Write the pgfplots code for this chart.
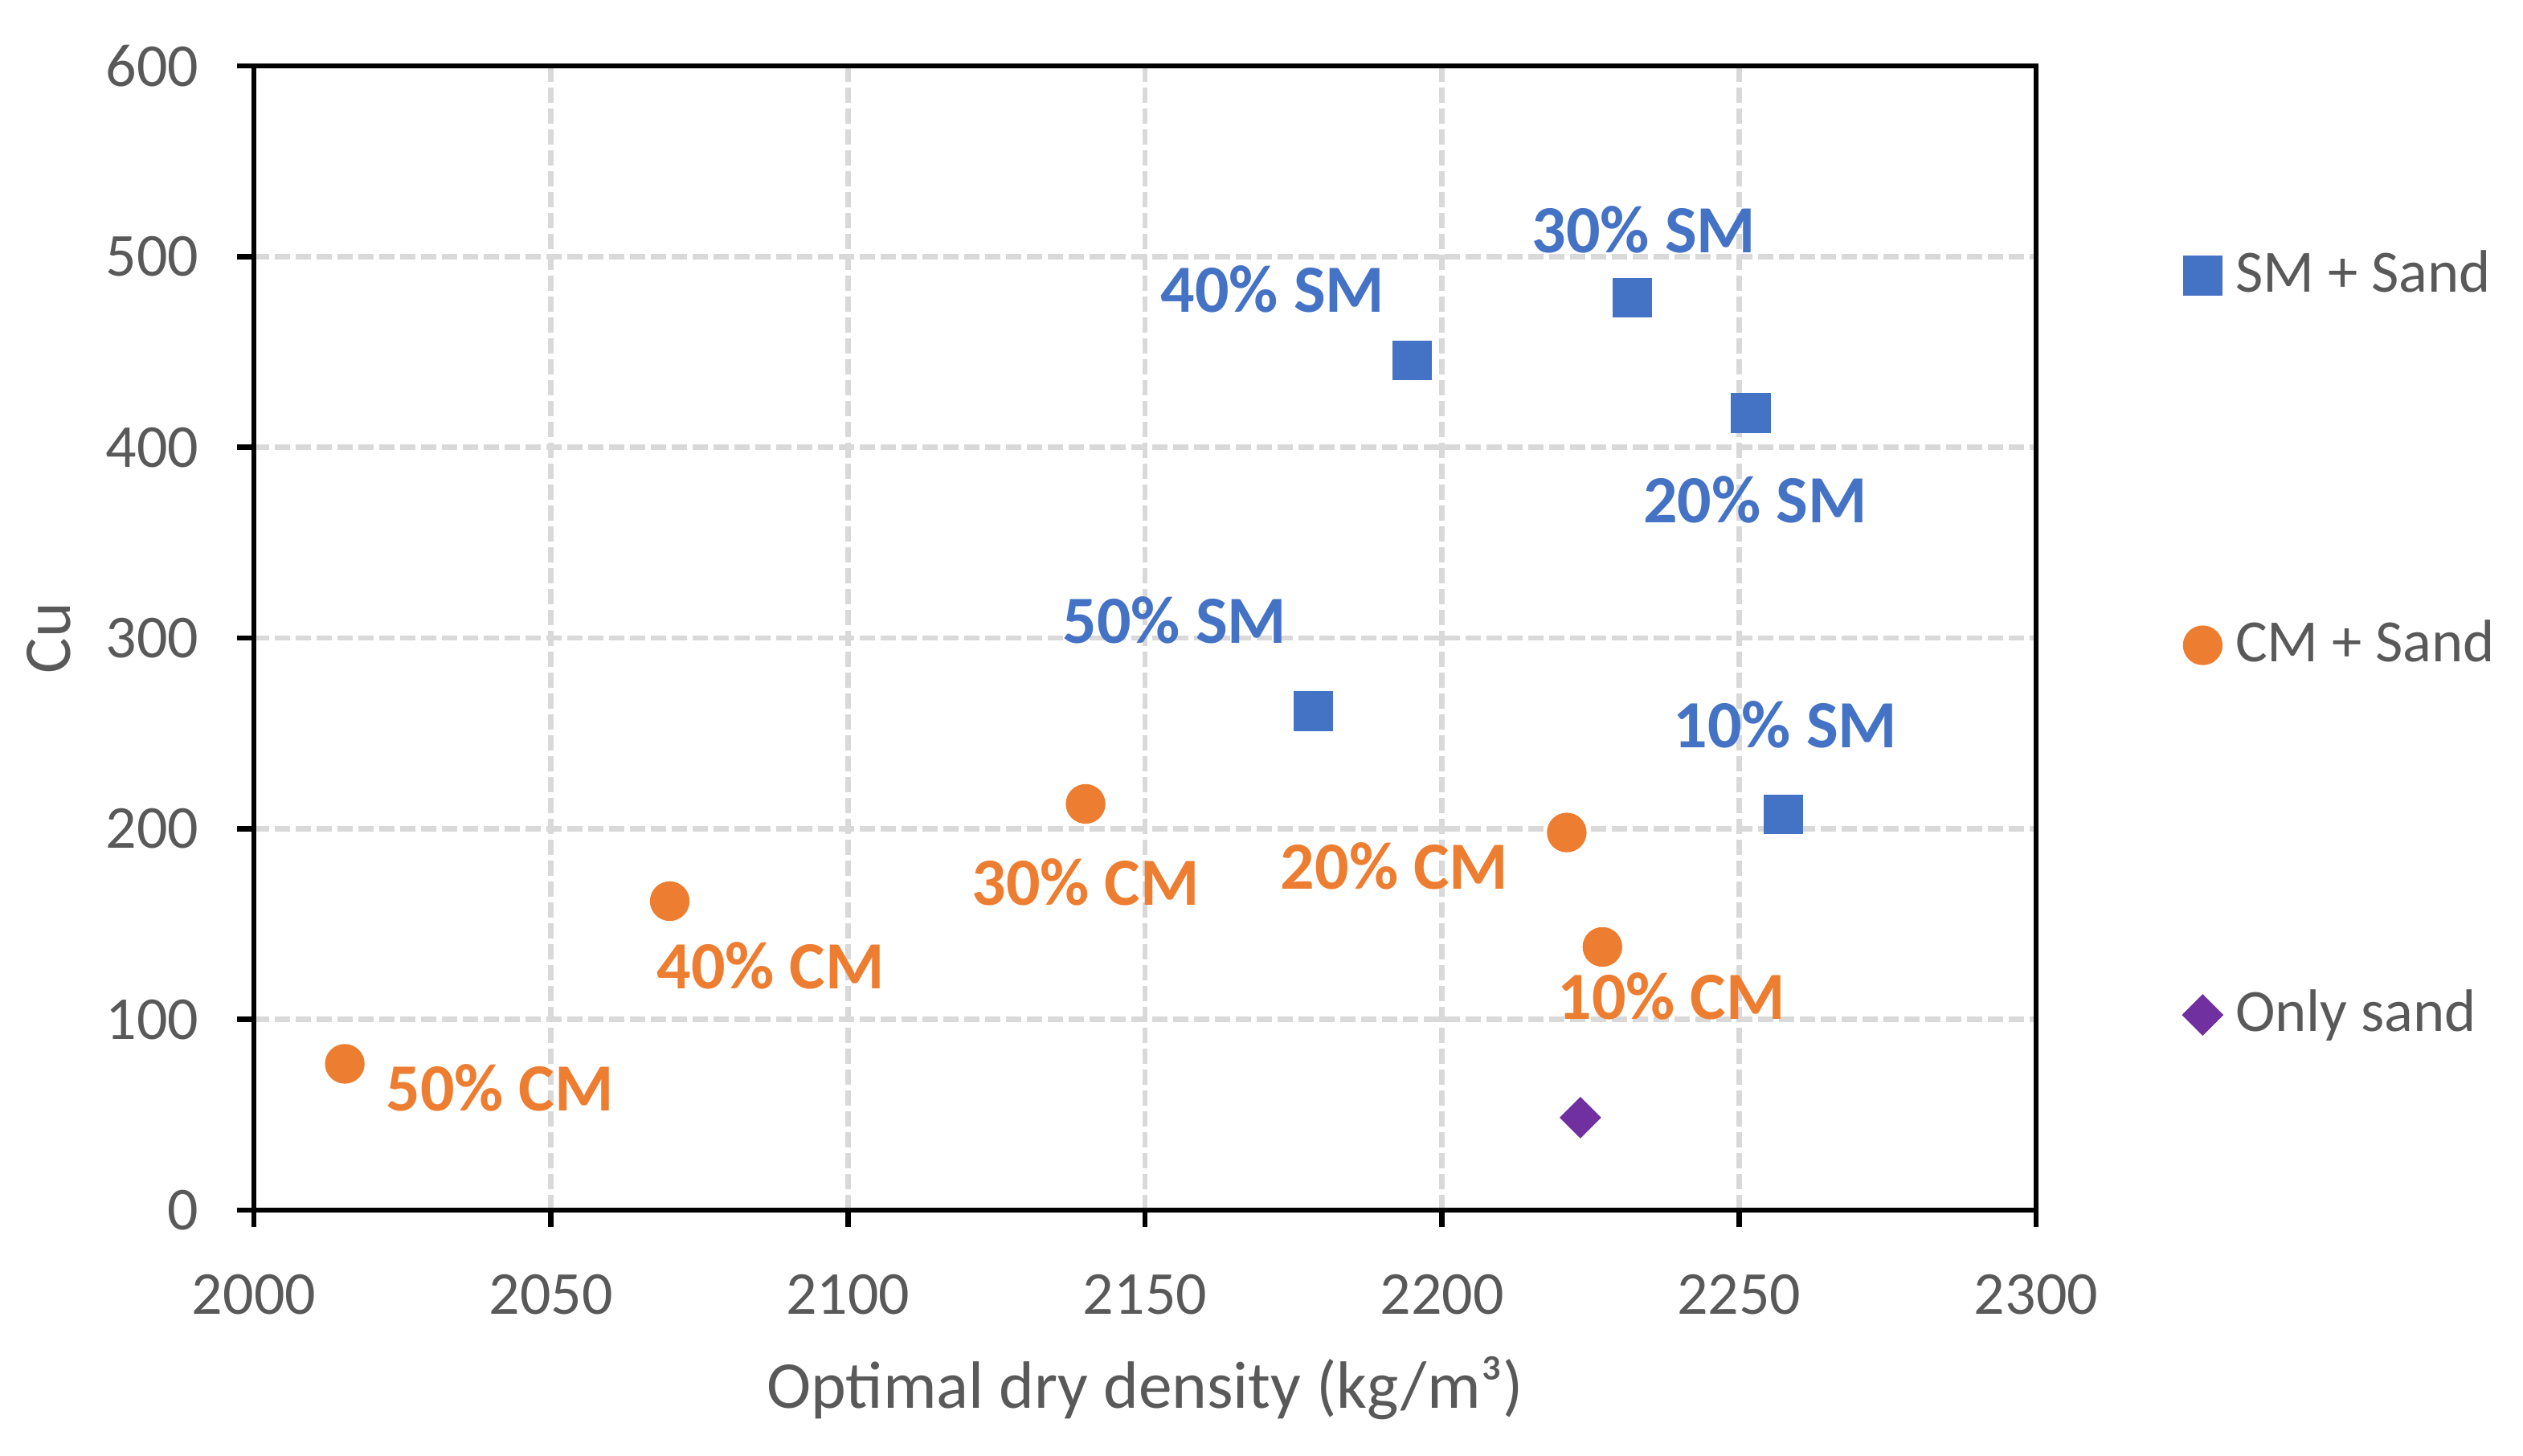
\documentclass[border=0pt]{standalone}
\usepackage{fontspec}
\setmainfont{Carlito}
\usepackage{pgfplots}
\pgfplotsset{compat=1.18}
\definecolor{smblue}{HTML}{4472C4}
\definecolor{cmorange}{HTML}{ED7D31}
\definecolor{sandpurple}{HTML}{7030A0}
\definecolor{txtgray}{HTML}{595959}
\definecolor{gridgray}{HTML}{D9D9D9}
\begin{document}
\begin{tikzpicture}
\useasboundingbox (-47.4pt,-45.9pt) rectangle (423.6pt,225.9pt);
\begin{axis}[
  scale only axis, width=332.7pt, height=213.6pt,
  xmin=2000, xmax=2300, ymin=0, ymax=600,
  xtick={2000,2050,...,2300}, ytick={0,100,...,600},
  axis line style={black, line width=1pt},
  tick align=outside, xtick pos=bottom, ytick pos=left,
  major tick length=3.15pt,
  tick style={black, line width=1pt},
  grid=major,
  major grid style={gridgray, line width=1.0pt, dash pattern=on 2.8pt off 1.1pt},
  ticklabel style={font=\fontsize{11.4}{13}\selectfont, text=txtgray},
  xticklabel style={yshift=-5.4pt},
  yticklabel style={xshift=-3.6pt},
  /pgf/number format/assume math mode=true,
  /pgf/number format/1000 sep={},
  xlabel={Optimal dry density (kg/m³)},
  ylabel={Cu},
  every axis x label/.style={at={(axis description cs:0.5,-0.1728)}, anchor=base, font=\fontsize{12.5}{15}\selectfont, text=txtgray},
  every axis y label/.style={at={(axis description cs:-0.1028,0.5)}, rotate=90, anchor=base, font=\fontsize{12.5}{15}\selectfont, text=txtgray},
  legend style={at={(axis description cs:1.0821,0.841)}, anchor=north west, draw=none, fill=none, inner sep=0pt, row sep=59pt, column sep=2.5pt, font=\fontsize{11.2}{13}\selectfont, text=txtgray, nodes={inner sep=0pt, text height=8pt, text depth=2pt, text=txtgray}},
  legend cell align=left,
  legend image code/.code={\draw[#1] plot coordinates {(0pt,0pt)};},
  clip=false,
]
\addplot[only marks, mark=square*, mark size=3.5pt, color=smblue, mark options={fill=smblue, draw=smblue}]
  coordinates {(2257.5,207.5)(2252,418)(2232,478.5)(2195,445.5)(2178.3,261.7)};
\addlegendentry{SM + Sand}
\addplot[only marks, mark=*, mark size=3.5pt, color=cmorange, mark options={fill=cmorange, draw=cmorange}]
  coordinates {(2227,138)(2221,198)(2140,213)(2070,162)(2015.3,76.7)};
\addlegendentry{CM + Sand}
\addplot[only marks, mark=diamond*, mark size=3.6pt, color=sandpurple, mark options={fill=sandpurple, draw=sandpurple, xscale=1.333}]
  coordinates {(2223.3,48.5)};
\addlegendentry{Only sand}
\begin{scope}[every node/.style={font=\bfseries\fontsize{12.6}{15}\selectfont, anchor=center, inner sep=0pt}]
\node[text=smblue] at (axis cs:2234,514) {30\% SM};
\node[text=smblue] at (axis cs:2171.5,483) {40\% SM};
\node[text=smblue] at (axis cs:2252.7,372.5) {20\% SM};
\node[text=smblue] at (axis cs:2155,309.3) {50\% SM};
\node[text=smblue] at (axis cs:2257.8,254.5) {10\% SM};
\node[text=cmorange] at (axis cs:2140,172) {30\% CM};
\node[text=cmorange] at (axis cs:2192,180.3) {20\% CM};
\node[text=cmorange] at (axis cs:2087,128) {40\% CM};
\node[text=cmorange] at (axis cs:2238.6,112) {10\% CM};
\node[text=cmorange] at (axis cs:2041.4,64) {50\% CM};
\end{scope}
\end{axis}
\end{tikzpicture}
\end{document}
